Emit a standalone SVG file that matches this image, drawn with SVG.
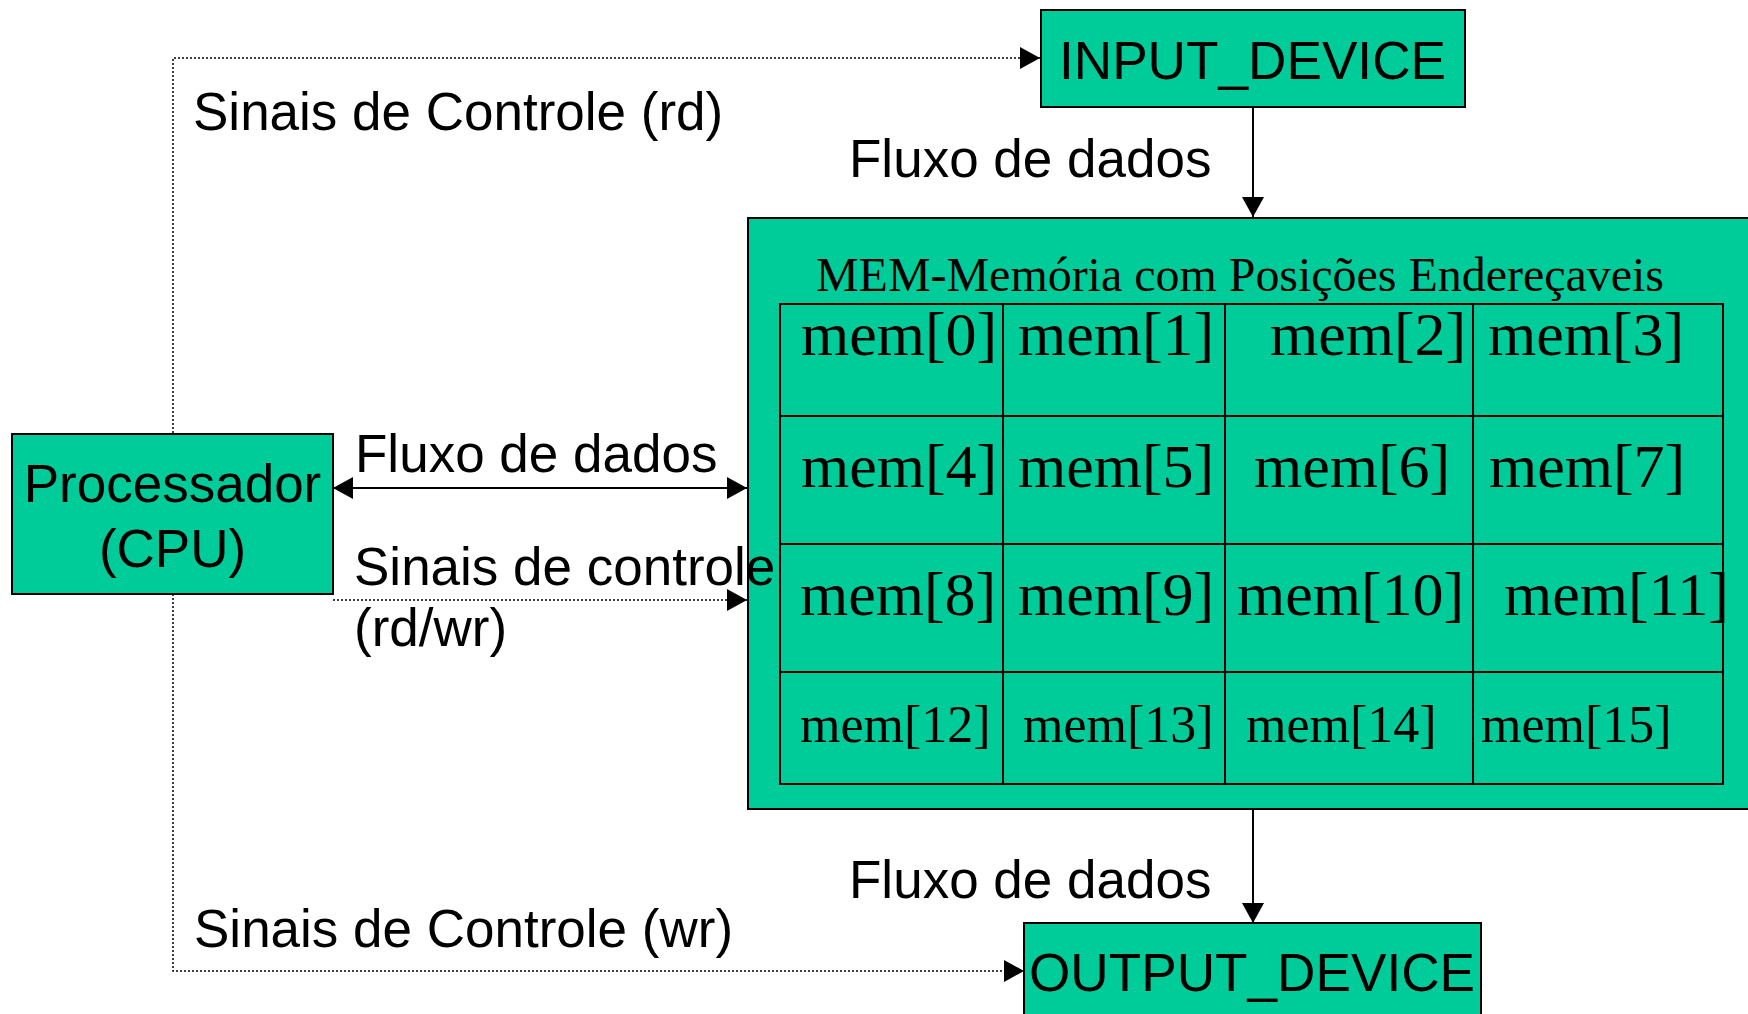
<svg xmlns="http://www.w3.org/2000/svg" width="1748" height="1014" viewBox="0 0 1748 1014">
  <style>
    .box { fill: #00cc99; stroke: #000; stroke-width: 2; }
    .grid { fill: none; stroke: #000; stroke-width: 2; }
    .sans { font-family: "Liberation Sans", Arial, sans-serif; font-size: 53px; fill: #000; }
    .serif { font-family: "Liberation Serif", "Times New Roman", serif; fill: #000; }
    .cell { font-size: 62px; }
    .cell-sm { font-size: 52px; }
    .solid { fill: none; stroke: #000; stroke-width: 2; }
    .dotted { fill: none; stroke: #000; stroke-width: 1.5; stroke-dasharray: 2 2; }
  </style>
  <defs>
    <marker id="arrow" markerUnits="userSpaceOnUse" markerWidth="20" markerHeight="22" refX="20" refY="11" orient="auto-start-reverse" viewBox="0 0 20 22">
      <path d="M0,0 L20,11 L0,22 z" fill="#000"/>
    </marker>
  </defs>
  <rect width="1748" height="1014" fill="#fff"/>

  <!-- connectors -->
  <g id="connectors">
    <!-- control (rd) to input device -->
    <path class="dotted" d="M173,433 V58 H1040" marker-end="url(#arrow)"/>
    <!-- control (wr) to output device -->
    <path class="dotted" d="M173,594 V971 H1024" marker-end="url(#arrow)"/>
    <!-- CPU <-> memory data bus -->
    <path class="solid" d="M333,488 H747" marker-start="url(#arrow)" marker-end="url(#arrow)"/>
    <!-- CPU -> memory control rd/wr -->
    <path class="dotted" d="M333,600 H747" marker-end="url(#arrow)"/>
    <!-- input -> memory -->
    <path class="solid" d="M1253,107 V217" marker-end="url(#arrow)"/>
    <!-- memory -> output -->
    <path class="solid" d="M1253,810 V923" marker-end="url(#arrow)"/>
  </g>

  <g id="input_device">
    <rect class="box" x="1041" y="10" width="424" height="97"/>
    <text class="sans" x="1059" y="79" font-size="54" textLength="387" lengthAdjust="spacingAndGlyphs">INPUT_DEVICE</text>
  </g>

  <g id="cpu">
    <rect class="box" x="12" y="434" width="321" height="160"/>
    <text class="sans" x="172.5" y="502" text-anchor="middle">Processador</text>
    <text class="sans" x="172.5" y="567" text-anchor="middle">(CPU)</text>
  </g>

  <g id="output_device">
    <rect class="box" x="1024" y="923" width="457" height="110"/>
    <text class="sans" x="1029" y="991" font-size="54" textLength="446" lengthAdjust="spacingAndGlyphs">OUTPUT_DEVICE</text>
  </g>

  <g id="memory">
    <rect class="box" x="748" y="218" width="1020" height="591"/>
    <text class="serif" x="816" y="291" font-size="48" textLength="848" lengthAdjust="spacingAndGlyphs">MEM-Memória com Posições Endereçaveis</text>
    <!-- 4x4 cell grid -->
    <rect class="grid" x="780" y="304" width="943" height="480"/>
    <path class="grid" d="M1003,304 V784 M1225,304 V784 M1473,304 V784 M780,416 H1723 M780,544 H1723 M780,672 H1723"/>
    <g class="serif cell">
      <text x="801" y="355">mem[0]</text>
      <text x="1018" y="355">mem[1]</text>
      <text x="1270" y="355">mem[2]</text>
      <text x="1488" y="355">mem[3]</text>
      <text x="801" y="487">mem[4]</text>
      <text x="1018" y="487">mem[5]</text>
      <text x="1254" y="487">mem[6]</text>
      <text x="1489" y="487">mem[7]</text>
      <text x="800" y="615">mem[8]</text>
      <text x="1018" y="615">mem[9]</text>
      <text x="1237" y="615">mem[10]</text>
      <text x="1504" y="615">mem[11]</text>
    </g>
    <g class="serif cell-sm">
      <text x="800" y="742">mem[12]</text>
      <text x="1023" y="742">mem[13]</text>
      <text x="1246" y="742">mem[14]</text>
      <text x="1481" y="742">mem[15]</text>
    </g>
  </g>

  <!-- connector labels, drawn last so they sit above the boxes -->
  <g id="labels" class="sans">
    <text x="193" y="130">Sinais de Controle (rd)</text>
    <text x="849" y="177">Fluxo de dados</text>
    <text x="355" y="472">Fluxo de dados</text>
    <text x="354" y="585">Sinais de controle</text>
    <text x="354" y="646">(rd/wr)</text>
    <text x="849" y="898">Fluxo de dados</text>
    <text x="194" y="947">Sinais de Controle (wr)</text>
  </g>
</svg>
